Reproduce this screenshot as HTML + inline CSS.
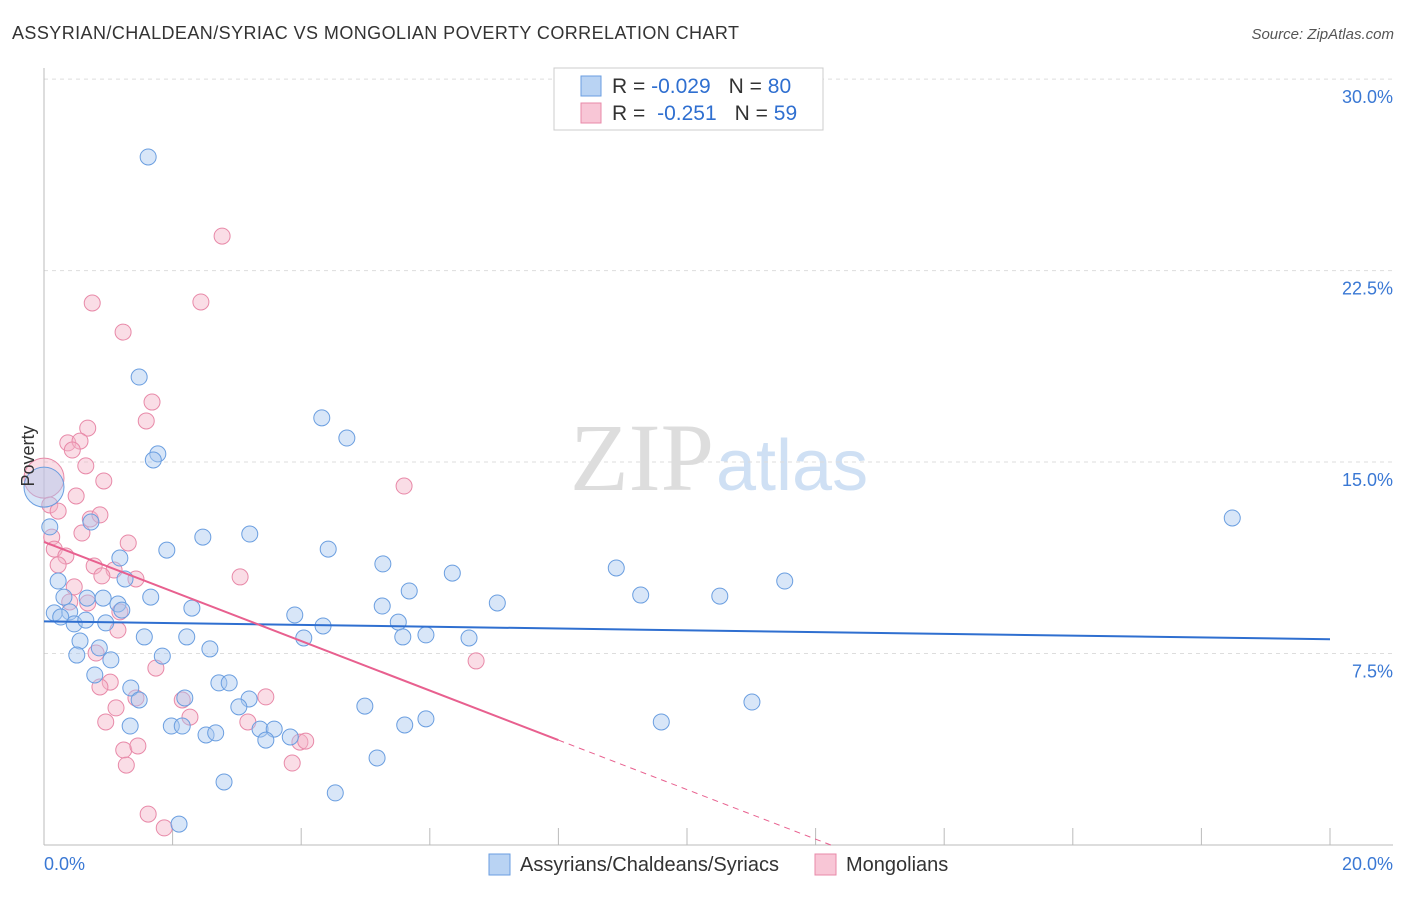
<!DOCTYPE html>
<html><head><meta charset="utf-8"><style>
body{margin:0;background:#fff;font-family:"Liberation Sans",sans-serif;}
svg text{font-family:"Liberation Sans",sans-serif;}
</style></head><body>
<svg id="chart" width="1406" height="892" viewBox="0 0 1406 892" xmlns="http://www.w3.org/2000/svg">
<text x="12" y="39" font-size="18" fill="#333" textLength="727" lengthAdjust="spacing">ASSYRIAN/CHALDEAN/SYRIAC VS MONGOLIAN POVERTY CORRELATION CHART</text>
<text x="1394" y="39" font-size="15" fill="#555" text-anchor="end" font-style="italic">Source: ZipAtlas.com</text>
<text x="714" y="490" font-size="96" text-anchor="end" fill="#ddd" font-family="Liberation Serif" style="font-family:'Liberation Serif',serif">ZIP</text>
<text x="716" y="490" font-size="72" fill="#cfe0f4">atlas</text>
<g id="grid"></g>
<g id="axes"></g>
<g id="pts"></g>
<g id="trends"></g>
<text transform="translate(34,456) rotate(-90)" font-size="18" fill="#333" text-anchor="middle">Poverty</text>
<g>
<rect x="554" y="68" width="269" height="62" fill="#fff" stroke="#ccc"/>
<rect x="581" y="76" width="20" height="20" fill="#b9d3f3" stroke="#6a9ee0"/>
<rect x="581" y="103" width="20" height="20" fill="#f8c6d6" stroke="#e889a8"/>
<text x="612" y="93" font-size="21" fill="#333">R = <tspan fill="#2f6fd0">-0.029</tspan><tspan dx="18">N = </tspan><tspan fill="#2f6fd0">80</tspan></text>
<text x="612" y="120" font-size="21" fill="#333">R = <tspan dx="6" fill="#2f6fd0">-0.251</tspan><tspan dx="18">N = </tspan><tspan fill="#2f6fd0">59</tspan></text>
</g>
<g>
<rect x="489" y="854" width="21" height="21" fill="#b9d3f3" stroke="#6a9ee0"/>
<text x="520" y="871" font-size="20" fill="#333">Assyrians/Chaldeans/Syriacs</text>
<rect x="815" y="854" width="21" height="21" fill="#f8c6d6" stroke="#e889a8"/>
<text x="846" y="871" font-size="20" fill="#333">Mongolians</text>
</g>
</svg>
<script>
const xTicks=[0,20];
const yTicks=[7.5,15,22.5,30];
const yTickLabels=["7.5%","15.0%","22.5%","30.0%"];
const blueX=[1.62,1.48,4.32,4.71,1.77,1.70,0.0,0.09,0.73,2.47,3.20,1.91,4.42,1.18,5.27,6.35,8.90,11.52,18.48,0.22,1.26,5.68,9.28,10.51,7.05,0.31,0.67,0.92,1.66,2.30,1.15,1.21,0.16,0.40,0.26,0.47,0.65,0.96,3.90,5.26,5.51,4.34,1.56,2.22,4.04,5.94,6.61,5.58,0.56,0.86,2.58,0.51,1.04,1.84,0.79,2.72,2.88,1.35,1.48,2.19,3.19,3.03,4.99,1.34,1.98,2.15,2.52,2.67,3.36,3.58,3.45,3.83,5.61,5.94,9.60,11.01,5.18,2.80,4.53,2.10];
const blueY=[26.95,18.33,16.73,15.94,15.32,15.08,14.02,12.46,12.65,12.06,12.18,11.55,11.59,11.24,11.01,10.65,10.85,10.34,12.81,10.34,10.42,9.95,9.79,9.75,9.48,9.71,9.67,9.67,9.71,9.28,9.44,9.20,9.09,9.13,8.93,8.66,8.81,8.70,9.01,9.36,8.73,8.58,8.15,8.15,8.11,8.23,8.11,8.15,7.99,7.72,7.68,7.44,7.25,7.40,6.66,6.35,6.35,6.15,5.68,5.76,5.72,5.41,5.44,4.66,4.66,4.66,4.31,4.39,4.54,4.54,4.11,4.23,4.70,4.94,4.82,5.60,3.41,2.47,2.04,0.82];
const pinkX=[2.77,0.75,2.44,1.23,1.68,1.59,0.68,0.37,0.56,0.44,0.65,0.93,5.60,0.50,0,0.09,0.22,0.72,0.87,0.59,0.12,0.16,0.34,0.22,1.31,0.78,1.09,0.90,1.43,3.05,0.47,0.40,0.68,1.18,1.15,0.81,1.74,6.72,1.03,0.87,2.15,1.43,3.45,2.27,0.96,1.12,3.17,1.24,1.46,1.28,3.86,3.98,4.07,1.62,1.87];
const pinkY=[23.85,21.23,21.27,20.09,17.35,16.61,16.33,15.75,15.82,15.47,14.85,14.26,14.06,13.67,14.37,13.32,13.08,12.77,12.93,12.22,12.06,11.59,11.32,10.97,11.83,10.93,10.77,10.54,10.42,10.50,10.11,9.52,9.48,9.13,8.42,7.52,6.93,7.21,6.38,6.19,5.68,5.76,5.80,5.01,4.82,5.37,4.82,3.72,3.88,3.13,3.21,4.03,4.07,1.21,0.67];
const blueTrend=[8.76,8.06];
const pinkTrend=[11.87,-0.97];
const NS="http://www.w3.org/2000/svg";
const X=v=>44+v*64.3, Y=v=>845-v*25.53;
function mk(tag,attrs,parent){const e=document.createElementNS(NS,tag);for(const k in attrs)e.setAttribute(k,attrs[k]);document.getElementById(parent).appendChild(e);return e;}
yTicks.forEach((t,i)=>{
 const l=mk('line',{x1:44,x2:1393,y1:Y(t),y2:Y(t),stroke:'#ddd','stroke-dasharray':'4,4'},'grid');
 
 
 const tx=mk('text',{x:1393,y:Y(t)+24,'font-size':18,fill:'#3a78d4','text-anchor':'end'},'grid');
 tx.textContent=yTickLabels[i];
 
 
});
const ax=mk('line',{x1:44,x2:1393,y1:845,y2:845,stroke:'#bbb'},'axes');


const ay=mk('line',{x1:44,x2:44,y1:68,y2:845,stroke:'#bbb'},'axes');


for(let i=1;i<=10;i++){
 const t=mk('line',{x1:X(i*2),x2:X(i*2),y1:828,y2:845,stroke:'#bbb'},'axes');
 
 
}
xTicks.forEach((t,i)=>{
 const tx=mk('text',{x:i==0?44:1393,y:870,'font-size':18,fill:'#3a78d4','text-anchor':i==0?'start':'end'},'axes');
 tx.textContent=t.toFixed(1)+'%';
 
 
});
function pts(xs,ys,fill,stroke,name){
 xs.forEach((x,i)=>{
  const big=(x===0&&ys[i]>13.5);
  const c=mk('circle',{cx:X(x),cy:Y(ys[i]),r:big?20:8,fill:fill,'fill-opacity':0.45,stroke:stroke,'stroke-width':1},'pts');
  
  
 });
}
pts(pinkX,pinkY,'#f5b3c8','#e889a8','mongolian-point');
pts(blueX,blueY,'#a9c8ef','#6a9ee0','assyrian-point');
const bl=mk('line',{x1:X(0),y1:Y(blueTrend[0]),x2:X(20),y2:Y(blueTrend[1]),stroke:'#2f6fd0','stroke-width':2},'trends');


const pEnd=8, pZero=-pinkTrend[0]/pinkTrend[1];
const pl=mk('line',{x1:X(0),y1:Y(pinkTrend[0]),x2:X(pEnd),y2:Y(pinkTrend[0]+pinkTrend[1]*pEnd),stroke:'#e8608f','stroke-width':2},'trends');


const pd=mk('line',{x1:X(pEnd),y1:Y(pinkTrend[0]+pinkTrend[1]*pEnd),x2:X(pZero),y2:Y(0),stroke:'#e8608f','stroke-width':1,'stroke-dasharray':'6,5'},'trends');


</script>
</body></html>
